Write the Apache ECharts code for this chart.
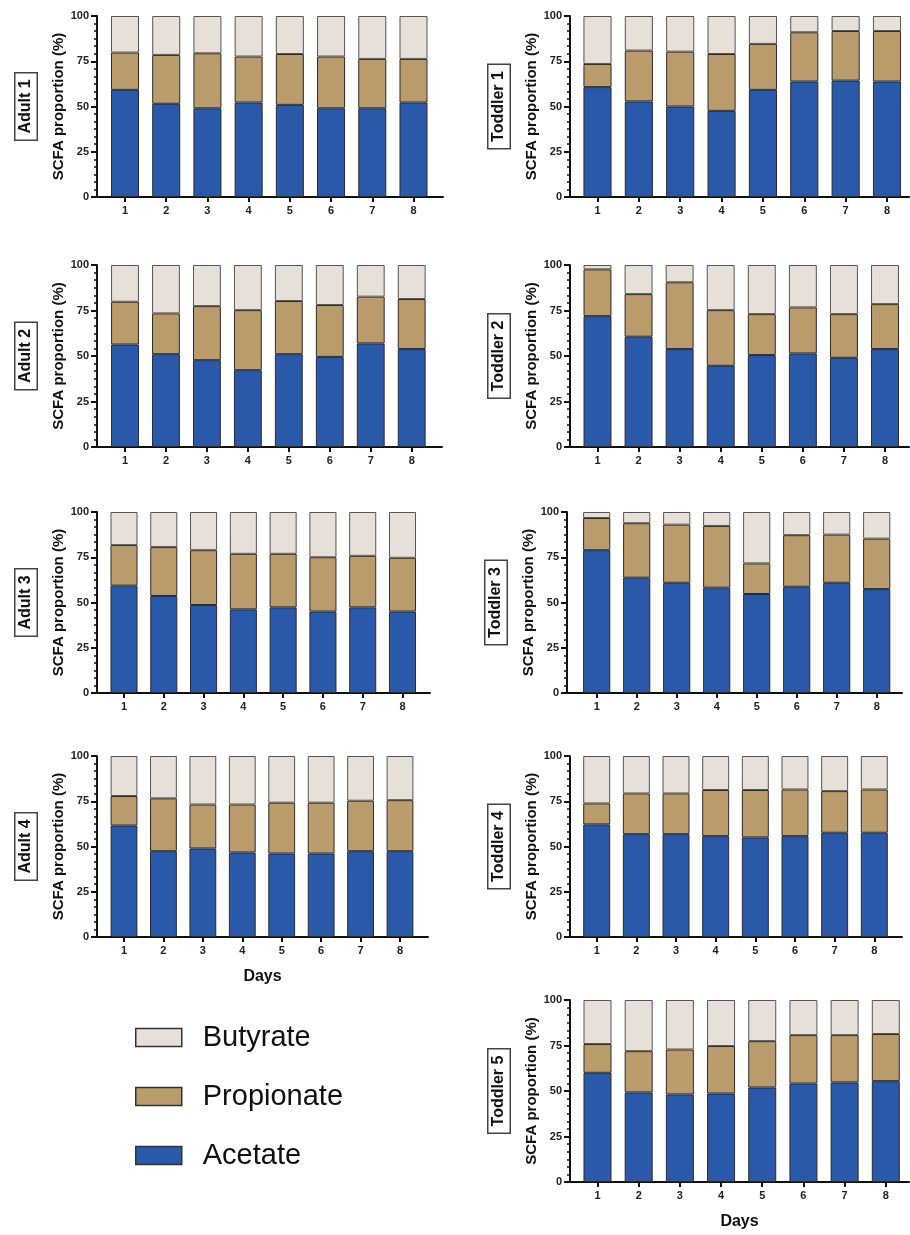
<!DOCTYPE html>
<html>
<head>
<meta charset="utf-8">
<title>SCFA proportion</title>
<script src="https://cdn.jsdelivr.net/npm/echarts@6/dist/echarts.min.js"></script>
<style>
  html, body { margin: 0; padding: 0; background: #fff; }
  #chart { width: 910px; height: 1235px; }
</style>
</head>
<body>
<div id="chart"></div>
<script>
// days on the x axis
const days = [1, 2, 3, 4, 5, 6, 7, 8];

// values, % of total SCFA (segments, bottom to top)
const adult1Acetate = [59.2, 51.5, 49.0, 52.2, 50.9, 49.0, 49.0, 52.2];
const adult1Propionate = [20.6, 27.0, 30.4, 25.4, 28.1, 28.6, 27.3, 24.1];
const adult1Butyrate = [20.2, 21.5, 20.6, 22.4, 21.0, 22.4, 23.7, 23.7];

const adult2Acetate = [56.3, 51.0, 47.7, 42.2, 51.0, 49.5, 56.9, 53.8];
const adult2Propionate = [23.5, 22.4, 29.7, 33.0, 29.2, 28.5, 25.7, 27.5];
const adult2Butyrate = [20.2, 26.6, 22.6, 24.8, 19.8, 22.0, 17.4, 18.7];

const adult3Acetate = [59.3, 53.6, 48.6, 46.2, 47.3, 45.0, 47.3, 45.0];
const adult3Propionate = [22.4, 27.0, 30.3, 30.7, 29.6, 30.0, 28.5, 29.7];
const adult3Butyrate = [18.3, 19.4, 21.1, 23.1, 23.1, 25.0, 24.2, 25.3];

const adult4Acetate = [61.6, 47.4, 48.9, 46.7, 46.1, 46.1, 47.4, 47.4];
const adult4Propionate = [16.3, 29.2, 24.3, 26.5, 28.1, 28.1, 27.9, 28.2];
const adult4Butyrate = [22.1, 23.4, 26.8, 26.8, 25.8, 25.8, 24.7, 24.4];

const toddler1Acetate = [60.7, 52.8, 50.0, 47.6, 59.2, 63.8, 64.3, 63.8];
const toddler1Propionate = [12.8, 28.1, 30.3, 31.4, 25.4, 27.2, 27.4, 27.9];
const toddler1Butyrate = [26.5, 19.1, 19.7, 21.0, 15.4, 9.0, 8.3, 8.3];

const toddler2Acetate = [71.9, 60.6, 53.8, 44.6, 50.5, 51.4, 49.0, 53.8];
const toddler2Propionate = [25.7, 23.4, 36.7, 30.6, 22.5, 25.3, 24.0, 24.7];
const toddler2Butyrate = [2.4, 16.0, 9.5, 24.8, 27.0, 23.3, 27.0, 21.5];

const toddler3Acetate = [78.9, 63.7, 60.9, 58.2, 54.7, 58.7, 60.9, 57.4];
const toddler3Propionate = [17.8, 30.1, 32.1, 34.1, 16.9, 28.5, 26.6, 27.9];
const toddler3Butyrate = [3.3, 6.2, 7.0, 7.7, 28.4, 12.8, 12.5, 14.7];

const toddler4Acetate = [62.2, 56.8, 56.8, 55.7, 55.0, 55.7, 57.6, 57.6];
const toddler4Propionate = [11.6, 22.5, 22.5, 25.5, 26.2, 25.8, 23.0, 23.9];
const toddler4Butyrate = [26.2, 20.7, 20.7, 18.8, 18.8, 18.5, 19.4, 18.5];

const toddler5Acetate = [60.0, 49.2, 48.1, 48.6, 51.9, 54.1, 54.7, 55.4];
const toddler5Propionate = [15.8, 22.7, 24.7, 26.1, 25.5, 26.6, 26.0, 25.9];
const toddler5Butyrate = [24.2, 28.1, 27.2, 25.3, 22.6, 19.3, 19.3, 18.7];

const panels = [
  { label: "Adult 1", acetate: adult1Acetate, propionate: adult1Propionate, butyrate: adult1Butyrate },
  { label: "Toddler 1", acetate: toddler1Acetate, propionate: toddler1Propionate, butyrate: toddler1Butyrate },
  { label: "Adult 2", acetate: adult2Acetate, propionate: adult2Propionate, butyrate: adult2Butyrate },
  { label: "Toddler 2", acetate: toddler2Acetate, propionate: toddler2Propionate, butyrate: toddler2Butyrate },
  { label: "Adult 3", acetate: adult3Acetate, propionate: adult3Propionate, butyrate: adult3Butyrate },
  { label: "Toddler 3", acetate: toddler3Acetate, propionate: toddler3Propionate, butyrate: toddler3Butyrate },
  { label: "Adult 4", acetate: adult4Acetate, propionate: adult4Propionate, butyrate: adult4Butyrate, days: true },
  { label: "Toddler 4", acetate: toddler4Acetate, propionate: toddler4Propionate, butyrate: toddler4Butyrate },
  { label: "Toddler 5", acetate: toddler5Acetate, propionate: toddler5Propionate, butyrate: toddler5Butyrate, days: true }
];

// plot boxes in page pixels: [left, top, right, bottom], and centre of first / last bar
const layout = [
  { box: [97, 16, 443, 197], first: 125, last: 413.5 },
  { box: [570, 16, 909, 197], first: 597.5, last: 887 },
  { box: [97, 265, 442, 447], first: 125, last: 411.7 },
  { box: [570, 265, 909, 447], first: 597.5, last: 885 },
  { box: [97, 512, 430, 693], first: 124, last: 402.5 },
  { box: [567, 512, 902, 693], first: 596.7, last: 876.7 },
  { box: [97, 756, 428, 937], first: 124, last: 400 },
  { box: [570, 756, 902, 937], first: 596.7, last: 874.3 },
  { box: [570, 1000, 909, 1182], first: 597.5, last: 885.8 }
];

const colors = { Acetate: "#2b59a9", Propionate: "#b99b6c", Butyrate: "#e6e0d8" };
const font = "'Liberation Sans', Arial, sans-serif";
const ink = "#111";

const chart = echarts.init(document.getElementById("chart"));

const grids = [];
const xAxes = [];
const yAxes = [];
const series = [];
const graphics = [];

panels.forEach((p, i) => {
  const [left, top, right, bottom] = layout[i].box;
  const unit = (layout[i].last - layout[i].first) / 7;
  const xMin = 1 - (layout[i].first - left) / unit;
  const xMax = 8 + (right - layout[i].last) / unit;

  grids.push({ left: left, top: top, width: right - left, height: bottom - top });

  xAxes.push({
    gridIndex: i,
    type: "value",
    min: xMin,
    max: xMax,
    axisLine: { onZero: false, lineStyle: { color: ink, width: 2 } },
    axisTick: { customValues: days, length: 5, lineStyle: { color: ink, width: 2 } },
    axisLabel: { customValues: days, margin: 8, fontSize: 11, fontWeight: "bold", color: "#222", fontFamily: font },
    splitLine: { show: false },
    name: p.days ? "Days" : "",
    nameLocation: "middle",
    nameGap: 32,
    nameTextStyle: { fontSize: 16, fontWeight: "bold", color: ink, fontFamily: font }
  });

  yAxes.push({
    gridIndex: i,
    type: "value",
    min: 0,
    max: 100,
    interval: 25,
    axisLine: { show: true, onZero: false, lineStyle: { color: ink, width: 2 } },
    axisTick: { show: true, length: 6, lineStyle: { color: ink, width: 2 } },
    minorTick: { show: true, splitNumber: 6, length: 3, lineStyle: { color: ink, width: 1.5 } },
    axisLabel: { margin: 8, fontSize: 11, fontWeight: "bold", color: "#222", fontFamily: font },
    splitLine: { show: false },
    name: "SCFA proportion (%)",
    nameLocation: "middle",
    nameGap: 31,
    nameTextStyle: { fontSize: 15, fontWeight: "bold", color: ink, fontFamily: font }
  });

  // value first in each row so the stack is built on the y dimension
  [["Acetate", p.acetate], ["Propionate", p.propionate], ["Butyrate", p.butyrate]].forEach(([name, vals]) => {
    series.push({
      name: name,
      type: "bar",
      stack: "panel" + i,
      xAxisIndex: i,
      yAxisIndex: i,
      barWidth: unit * 0.68,
      dimensions: ["share", "day"],
      encode: { x: "day", y: "share" },
      itemStyle: {
        color: colors[name],
        borderColor: name === "Butyrate" ? "#555" : "#2a2a2a",
        borderWidth: 1
      },
      emphasis: { disabled: true },
      data: days.map((d, j) => [vals[j], d])
    });
  });

  graphics.push({
    type: "text",
    x: left - 71,
    y: (top + bottom) / 2,
    rotation: Math.PI / 2,
    style: {
      text: p.label,
      font: "bold 16px " + font,
      fill: ink,
      align: "center",
      verticalAlign: "middle",
      backgroundColor: "#fff",
      borderColor: "#444",
      borderWidth: 1.5,
      padding: [3, 6, 2, 6]
    }
  });
});

const option = {
  backgroundColor: "#fff",
  animation: false,
  grid: grids,
  xAxis: xAxes,
  yAxis: yAxes,
  series: series,
  graphic: graphics,
  legend: {
    orient: "vertical",
    left: 130,
    top: 1018,
    itemWidth: 46,
    itemHeight: 18,
    itemGap: 30,
    icon: "rect",
    selectedMode: false,
    data: ["Butyrate", "Propionate", "Acetate"],
    itemStyle: { borderColor: "#333", borderWidth: 1.5 },
    textStyle: { fontSize: 29, color: ink, fontFamily: font, padding: [0, 0, 0, 16] }
  }
};

chart.setOption(option);
</script>
</body>
</html>
